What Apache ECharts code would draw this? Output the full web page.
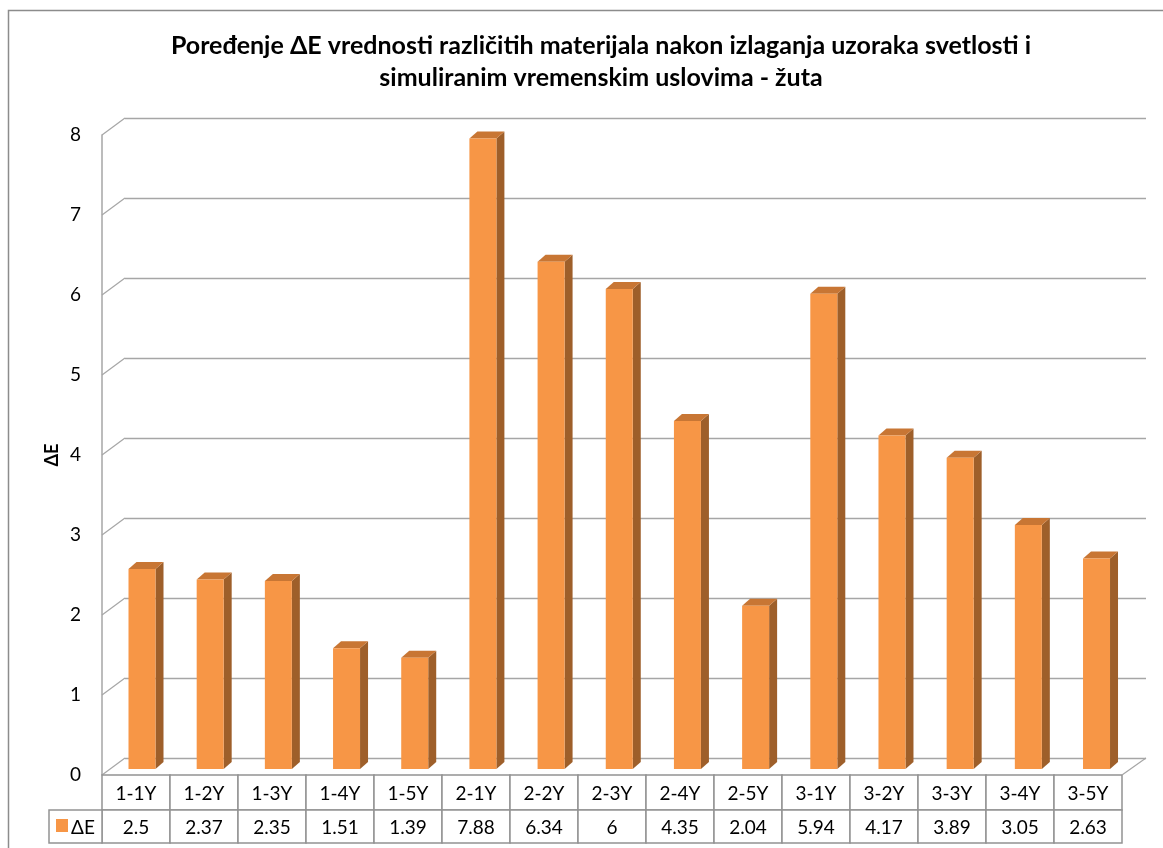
<!DOCTYPE html>
<html>
<head>
<meta charset="utf-8">
<script src="https://cdn.jsdelivr.net/npm/echarts@6/dist/echarts.min.js"></script>
<style>
html,body{margin:0;padding:0;background:#fff;}
#c{width:1163px;height:848px;}
</style>
</head>
<body>
<div id="c"></div>
<script>
const titleLines = ['Poređenje ΔE vrednosti različitih materijala nakon izlaganja uzoraka svetlosti i', 'simuliranim vremenskim uslovima - žuta'];
const seriesName = 'ΔE';
const categories = ['1-1Y','1-2Y','1-3Y','1-4Y','1-5Y','2-1Y','2-2Y','2-3Y','2-4Y','2-5Y','3-1Y','3-2Y','3-3Y','3-4Y','3-5Y'];
const values = [2.5, 2.37, 2.35, 1.51, 1.39, 7.88, 6.34, 6, 4.35, 2.04, 5.94, 4.17, 3.89, 3.05, 2.63];
const valueLabels = ['2.5','2.37','2.35','1.51','1.39','7.88','6.34','6','4.35','2.04','5.94','4.17','3.89','3.05','2.63'];
const yTicks = [0,1,2,3,4,5,6,7,8];

const FONT = 'Lato';
const GRID_COLOR = '#a6a6a6';
const TABLE_COLOR = '#939393';
const DX = 23, DY = -17;

const chart = echarts.init(document.getElementById('c'), null, {renderer: 'canvas'});

function renderSlant(params, api) {
  const v = api.value(0);
  const y = api.coord([0, v])[1];
  const x = params.coordSys.x;
  return {
    type: 'line',
    shape: {x1: x, y1: y, x2: x + DX, y2: y + DY},
    style: {stroke: GRID_COLOR, lineWidth: 1.2}
  };
}

function renderBar(params, api) {
  const i = api.value(0);
  const v = api.value(1);
  const top = api.coord([i, v]);
  const base = api.coord([i, 0]);
  const off = 6 + i * 0.18;
  const cx = top[0] + off;
  const w = 27;
  const x0 = cx - w / 2, x1 = cx + w / 2;
  const yt = top[1] - 6, yb = base[1] - 6;
  const dx = 8, dy = -7;
  return {
    type: 'group',
    children: [
      {type: 'polygon', shape: {points: [[x1, yt], [x1 + dx, yt + dy], [x1 + dx, yb + dy], [x1, yb]]}, style: {fill: '#9e5f2a'}},
      {type: 'polygon', shape: {points: [[x0, yt], [x0 + dx, yt + dy], [x1 + dx, yt + dy], [x1, yt]]}, style: {fill: '#c87634'}},
      {type: 'rect', shape: {x: x0, y: yt, width: w, height: yb - yt}, style: {fill: '#f79646'}}
    ]
  };
}

function renderTable(params, api) {
  const i = api.value(0);
  const cs = params.coordSys;
  const cx = api.coord([i, 0])[0];
  const w = api.size([1, 0])[0];
  const left = cx - w / 2;
  const yTop = cs.y + cs.height;
  const h1 = 35, h2 = 33;
  const children = [
    {type: 'rect', shape: {x: left, y: yTop, width: w, height: h1}, style: {fill: '#fff', stroke: TABLE_COLOR, lineWidth: 1.5}},
    {type: 'rect', shape: {x: left, y: yTop + h1, width: w, height: h2}, style: {fill: '#fff', stroke: TABLE_COLOR, lineWidth: 1.5}},
    {type: 'text', style: {text: categories[i], x: cx, y: yTop + h1 / 2 + 1, align: 'center', verticalAlign: 'middle', fontFamily: FONT, fontSize: 19, fill: '#000'}},
    {type: 'text', style: {text: valueLabels[i], x: cx, y: yTop + h1 + h2 / 2 + 1, align: 'center', verticalAlign: 'middle', fontFamily: FONT, fontSize: 19, fill: '#000'}}
  ];
  if (i === 0) {
    const lw = 53;
    children.push(
      {type: 'rect', shape: {x: left - lw, y: yTop + h1, width: lw, height: h2}, style: {fill: '#fff', stroke: TABLE_COLOR, lineWidth: 1.5}},
      {type: 'rect', shape: {x: left - lw + 7, y: yTop + h1 + 9, width: 12, height: 13}, style: {fill: '#f79646'}},
      {type: 'text', style: {text: seriesName, x: left - lw + 22, y: yTop + h1 + h2 / 2 + 1, align: 'left', verticalAlign: 'middle', fontFamily: FONT, fontSize: 19, fill: '#000'}}
    );
  }
  if (i === categories.length - 1) {
    const right = left + w;
    children.push(
      {type: 'line', shape: {x1: right, y1: yTop, x2: right + DX + 1, y2: yTop + DY}, style: {stroke: GRID_COLOR, lineWidth: 1.2}}
    );
  }
  return {type: 'group', children: children};
}

const option = {
  animation: false,
  backgroundColor: '#fff',
  title: {
    text: titleLines.join('\n'),
    left: 596,
    top: 25,
    textAlign: 'center',
    textStyle: {fontFamily: FONT, fontWeight: 'bold', fontSize: 25, lineHeight: 32, color: '#000'}
  },
  graphic: [
    {type: 'rect', z: -10, shape: {x: 8.5, y: 10.5, width: 1200, height: 900}, style: {fill: 'none', stroke: '#8c8c8c', lineWidth: 1.5}}
  ],
  grid: [
    {left: 102, right: 41, top: 135, bottom: 73},
    {left: 125, right: 17, top: 118, bottom: 90}
  ],
  xAxis: [
    {type: 'category', gridIndex: 0, data: categories, axisLine: {show: false}, axisTick: {show: false}, axisLabel: {show: false}, splitLine: {show: false}},
    {type: 'category', gridIndex: 1, data: categories, axisLine: {show: false}, axisTick: {show: false}, axisLabel: {show: false}, splitLine: {show: false}}
  ],
  yAxis: [
    {
      type: 'value', gridIndex: 0, min: 0, max: 8, interval: 1,
      name: seriesName, nameLocation: 'middle', nameGap: 41, nameRotate: 90, nameMoveOverlap: false,
      nameTextStyle: {fontFamily: FONT, fontWeight: 'bold', fontSize: 18, color: '#000'},
      axisLine: {show: true, lineStyle: {color: GRID_COLOR, width: 1.5}},
      axisTick: {show: false},
      axisLabel: {fontFamily: FONT, fontSize: 19, color: '#000', margin: 21},
      splitLine: {show: false}
    },
    {
      type: 'value', gridIndex: 1, min: 0, max: 8, interval: 1,
      axisLine: {show: false}, axisTick: {show: false}, axisLabel: {show: false},
      splitLine: {show: true, lineStyle: {color: GRID_COLOR, width: 1.3}}
    }
  ],
  series: [
    {type: 'custom', xAxisIndex: 0, yAxisIndex: 0, renderItem: renderSlant, data: yTicks.map(v => [v]), encode: {y: 0}, silent: true, z: 1},
    {type: 'custom', name: seriesName, xAxisIndex: 0, yAxisIndex: 0, renderItem: renderBar, data: values.map((v, i) => [i, v]), encode: {x: 0, y: 1}, z: 3},
    {type: 'custom', xAxisIndex: 0, yAxisIndex: 0, renderItem: renderTable, data: values.map((v, i) => [i, v]), encode: {x: 0, y: 1}, clip: false, z: 4}
  ]
};
chart.setOption(option);
</script>
</body>
</html>
